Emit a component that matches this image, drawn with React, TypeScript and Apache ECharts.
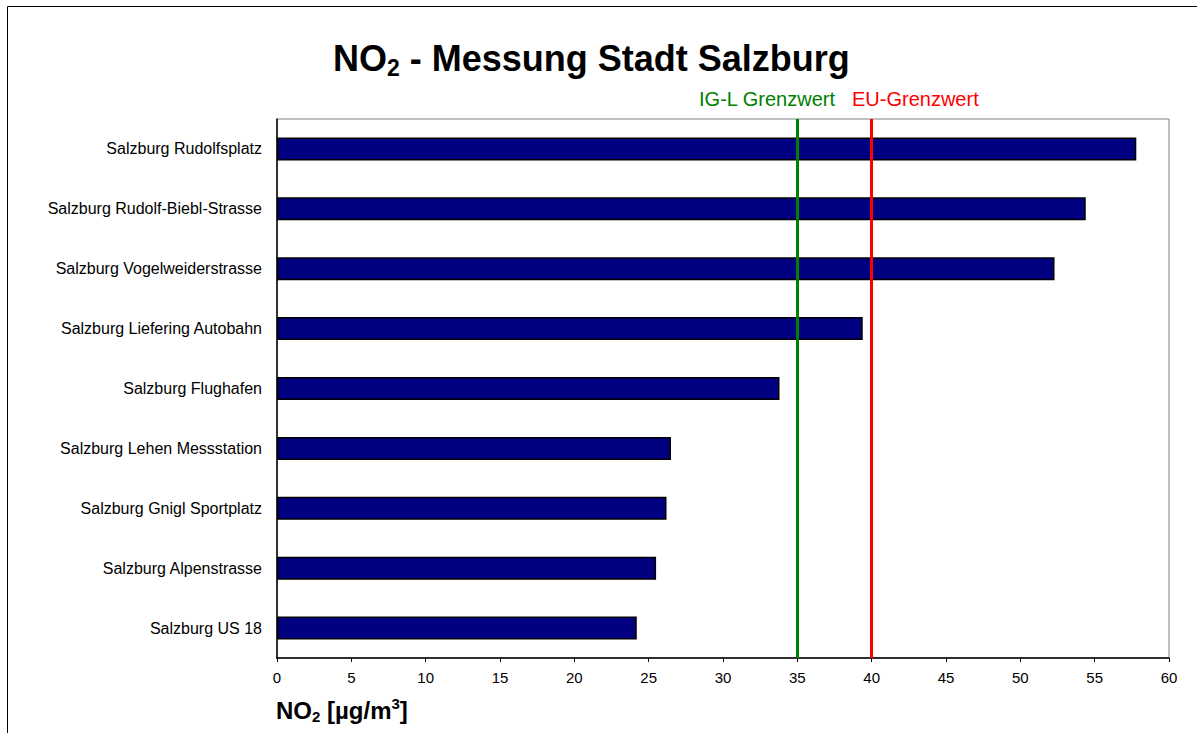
import React, { useEffect, useRef } from "react";
import * as echarts from "echarts";

// Measuring stations (top to bottom as drawn)
const stations: string[] = [
  "Salzburg Rudolfsplatz",
  "Salzburg Rudolf-Biebl-Strasse",
  "Salzburg Vogelweiderstrasse",
  "Salzburg Liefering Autobahn",
  "Salzburg Flughafen",
  "Salzburg Lehen Messstation",
  "Salzburg Gnigl Sportplatz",
  "Salzburg Alpenstrasse",
  "Salzburg US 18",
];

// Annual mean NO2 concentration, µg/m³
const no2Values: number[] = [57.8, 54.4, 52.3, 39.4, 33.8, 26.5, 26.2, 25.5, 24.2];

// Limit values, µg/m³
const limitIGL = 35;
const limitEU = 40;
const limitLabels: string[] = ["IG-L Grenzwert", "EU-Grenzwert"];

// Axis range
const xMin = 0;
const xMax = 60;
const xStep = 5;

const FONT = "'Liberation Sans', Arial, sans-serif";

export default function App() {
  const ref = useRef<HTMLDivElement>(null);

  useEffect(() => {
    if (!ref.current) return;
    const chart = echarts.init(ref.current, undefined, { renderer: "svg" });

    // ECharts draws category axes bottom-up; reverse so the first station is on top
    const cats = [...stations].reverse();
    const vals = [...no2Values].reverse();

    chart.setOption({
      animation: false,
      backgroundColor: "#ffffff",
      textStyle: { fontFamily: FONT },
      title: [
        {
          text: "{a|NO}{s|2}{a| - Messung Stadt Salzburg}",
          left: 333,
          top: 37,
          padding: 0,
          textStyle: {
            rich: {
              a: { fontSize: 36, fontWeight: "bold", lineHeight: 42, color: "#000", fontFamily: FONT },
              s: { fontSize: 23, fontWeight: "bold", lineHeight: 23, verticalAlign: "bottom", color: "#000", fontFamily: FONT },
            },
          },
        },
        {
          text: "{a|NO}{s|2}{a| [µg/m}{p|3}{a|]}",
          left: 276,
          top: 696,
          padding: 0,
          textStyle: {
            rich: {
              a: { fontSize: 24, fontWeight: "bold", lineHeight: 28, color: "#000", fontFamily: FONT },
              s: { fontSize: 15, fontWeight: "bold", lineHeight: 15, verticalAlign: "bottom", color: "#000", fontFamily: FONT },
              p: { fontSize: 15, fontWeight: "bold", lineHeight: 15, verticalAlign: "top", color: "#000", fontFamily: FONT },
            },
          },
        },
      ],
      graphic: [
        {
          type: "rect",
          silent: true,
          shape: { x: 7.5, y: 6.5, width: 1300, height: 900 },
          style: { fill: "none", stroke: "#000", lineWidth: 1 },
          z: 0,
        },
        {
          type: "text",
          x: 835,
          y: 99,
          style: {
            text: limitLabels[0],
            fill: "#008000",
            fontSize: 20,
            fontFamily: FONT,
            textAlign: "right",
            textVerticalAlign: "middle",
          },
        },
        {
          type: "text",
          x: 852,
          y: 99,
          style: {
            text: limitLabels[1],
            fill: "#ff0000",
            fontSize: 20,
            fontFamily: FONT,
            textAlign: "left",
            textVerticalAlign: "middle",
          },
        },
      ],
      grid: {
        left: 277,
        right: 28,
        top: 119,
        bottom: 75,
        show: true,
        borderColor: "#808080",
        borderWidth: 1,
        backgroundColor: "transparent",
      },
      xAxis: {
        type: "value",
        min: xMin,
        max: xMax,
        interval: xStep,
        splitLine: { show: false },
        axisLine: { show: true, lineStyle: { color: "#000", width: 1.5 } },
        axisTick: { show: true, length: 4, inside: false, lineStyle: { color: "#000" } },
        axisLabel: { color: "#000", fontSize: 15, fontFamily: FONT, margin: 12 },
      },
      yAxis: {
        type: "category",
        data: cats,
        axisLine: { show: true, lineStyle: { color: "#000", width: 1.5 } },
        axisTick: { show: false },
        axisLabel: { color: "#000", fontSize: 16, fontFamily: FONT, margin: 15 },
        splitLine: { show: false },
      },
      series: [
        {
          type: "bar",
          data: vals,
          barWidth: 23,
          itemStyle: { color: "#000080", borderColor: "#000", borderWidth: 1.5 },
          markLine: {
            silent: true,
            symbol: "none",
            label: { show: false },
            data: [
              { xAxis: limitIGL, lineStyle: { color: "#008000", width: 3, type: "solid" } },
              { xAxis: limitEU, lineStyle: { color: "#ff0000", width: 3, type: "solid" } },
            ],
          },
        },
      ],
    });

    return () => chart.dispose();
  }, []);

  return (
    <div
      ref={ref}
      style={{ position: "absolute", left: 0, top: 0, width: 1197, height: 733 }}
    />
  );
}
